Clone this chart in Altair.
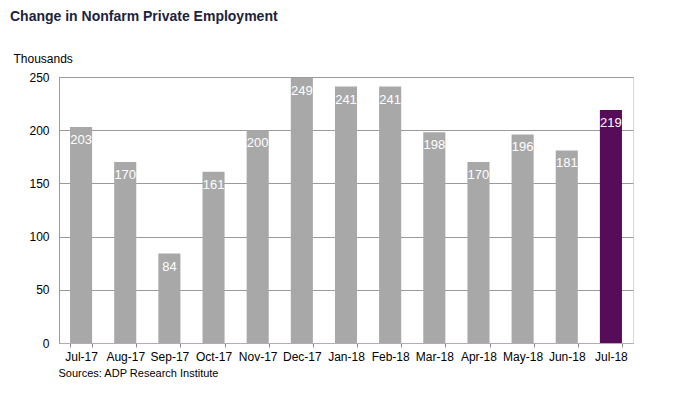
import altair as alt
import pandas as pd

months = ["Jul-17", "Aug-17", "Sep-17", "Oct-17", "Nov-17", "Dec-17", "Jan-18",
          "Feb-18", "Mar-18", "Apr-18", "May-18", "Jun-18", "Jul-18"]
values = [203, 170, 84, 161, 200, 249, 241, 241, 198, 170, 196, 181, 219]
highlight = ["no"] * 12 + ["yes"]

df = pd.DataFrame({"month": months, "value": values, "hl": highlight})

FONT = "Liberation Sans"

base = alt.Chart(df).encode(
    x=alt.X("month:N", sort=months,
            scale=alt.Scale(paddingInner=0.5, paddingOuter=0.25),
            axis=alt.Axis(title="Sources: ADP Research Institute", labelAngle=0,
                          labelFont=FONT, labelFontSize=12, labelColor="#000000",
                          labelPadding=4, ticks=True, tickBand="extent", tickSize=4,
                          tickColor="#8a8a8a", domainColor="#b8a8bc",
                          titleFont=FONT, titleFontSize=11, titleFontWeight="normal",
                          titleColor="#000000", titleAnchor="start", titleAlign="left",
                          titleBaseline="middle", titleX=-1, titleY=30)),
    y=alt.Y("value:Q", scale=alt.Scale(domain=[0, 250], nice=False),
            axis=alt.Axis(title="Thousands", values=[0, 50, 100, 150, 200, 250],
                          labelFont=FONT, labelFontSize=12, labelColor="#000000",
                          labelPadding=10, ticks=False, domainColor="#999999",
                          gridColor="#9a9a9a", gridWidth=1,
                          titleFont=FONT, titleFontSize=12, titleFontWeight="normal",
                          titleColor="#000000", titleAngle=0, titleAlign="left",
                          titleBaseline="middle", titleX=-46, titleY=-19)),
)

bars = base.mark_bar().encode(
    color=alt.Color("hl:N", scale=alt.Scale(domain=["no", "yes"],
                                            range=["#a8a8a8", "#570c5a"]),
                    legend=None)
)

labels = base.mark_text(baseline="top", dy=7, color="white", font=FONT,
                        fontSize=13).encode(text="value:Q")

chart = alt.layer(bars, labels).properties(
    width=574, height=266,
    autosize=alt.AutoSizeParams(type="none"),
    padding={"left": 51, "top": 69, "right": 44, "bottom": 40},
    title=alt.TitleParams("Change in Nonfarm Private Employment", anchor="start",
                          frame="group", dx=-49, offset=28, font=FONT, fontSize=14,
                          fontWeight="bold", color="#1c2340"),
).configure_view(stroke="#b0b0b0", strokeDash=[1, 1])

chart.save("out.html", embed_options={"renderer": "svg", "actions": False})
